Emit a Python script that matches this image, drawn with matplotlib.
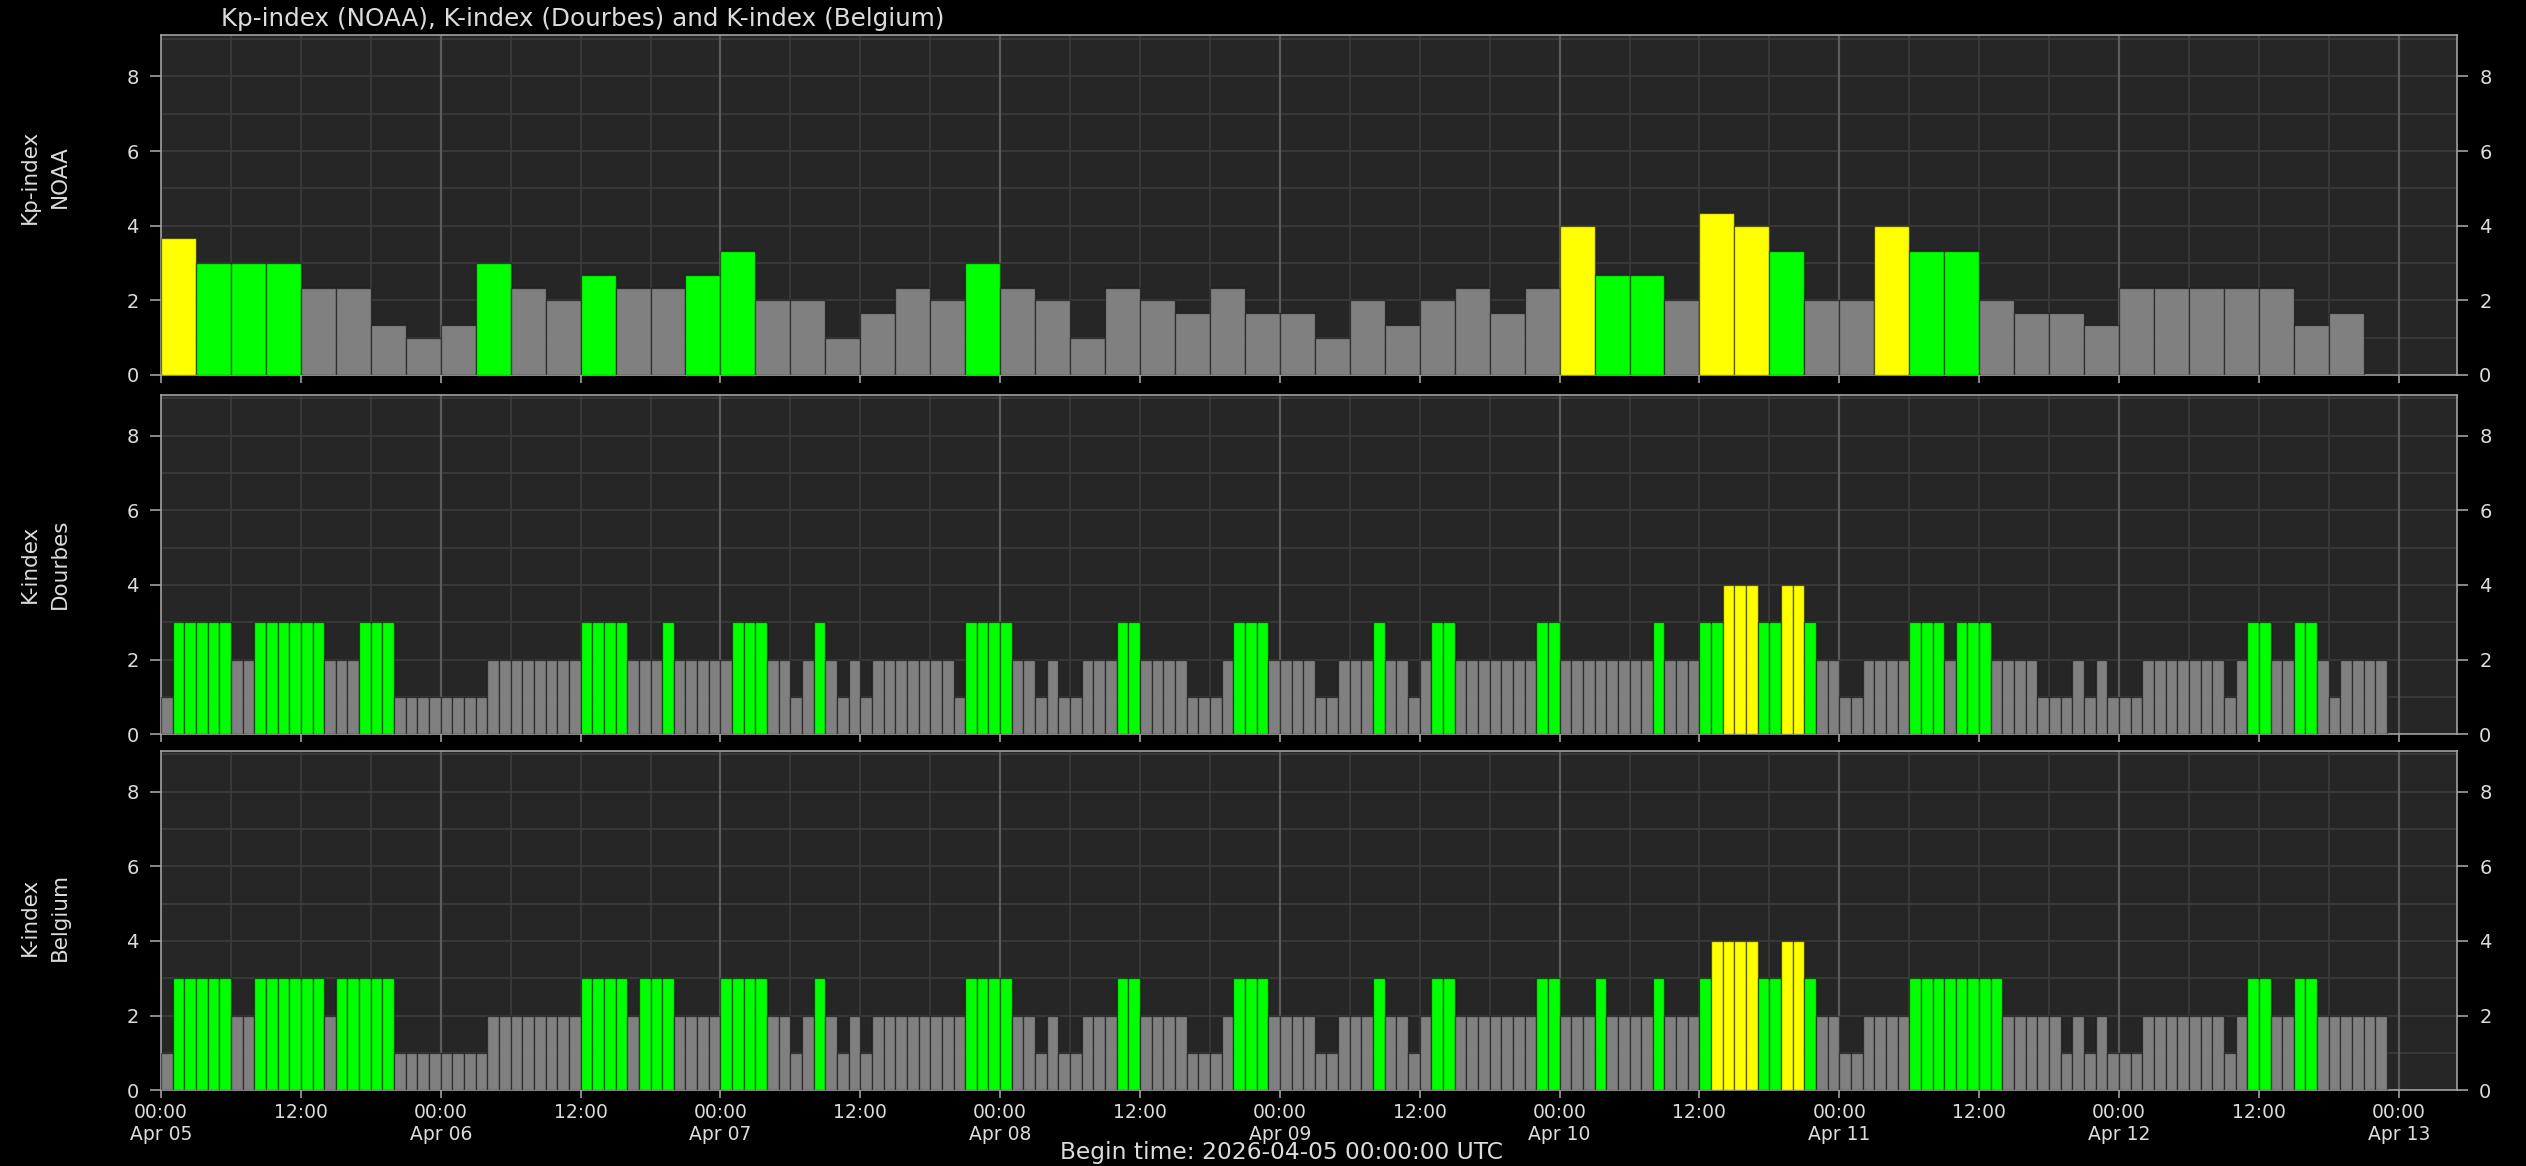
import numpy as np
import matplotlib
matplotlib.use("Agg")
import matplotlib.pyplot as plt
import matplotlib.dates as mdates
from matplotlib.ticker import MultipleLocator, FuncFormatter

# ---------------- data ----------------
start_time = "2026-04-05T00:00"
title_text = "Kp-index (NOAA), K-index (Dourbes) and K-index (Belgium)"
xlabel_text = "Begin time: 2026-04-05 00:00:00 UTC"
panel_labels = ["Kp-index\nNOAA", "K-index\nDourbes", "K-index\nBelgium"]

# Kp-index (NOAA), 3-hourly, from Apr 05 00:00
kp_noaa = [
    3.67, 3, 3, 3, 2.33, 2.33, 1.33, 1,          # Apr 05
    1.33, 3, 2.33, 2, 2.67, 2.33, 2.33, 2.67,    # Apr 06
    3.33, 2, 2, 1, 1.67, 2.33, 2, 3,             # Apr 07
    2.33, 2, 1, 2.33, 2, 1.67, 2.33, 1.67,       # Apr 08
    1.67, 1, 2, 1.33, 2, 2.33, 1.67, 2.33,       # Apr 09
    4, 2.67, 2.67, 2, 4.33, 4, 3.33, 2,          # Apr 10
    2, 4, 3.33, 3.33, 2, 1.67, 1.67, 1.33,       # Apr 11
    2.33, 2.33, 2.33, 2.33, 2.33, 1.33, 1.67, 0, # Apr 12
]

# K-index Dourbes, hourly, from Apr 05 00:00
k_dourbes = [
    1, 3, 3, 3, 3, 3, 2, 2, 3, 3, 3, 3, 3, 3, 2, 2, 2, 3, 3, 3, 1, 1, 1, 1,   # Apr 05
    1, 1, 1, 1, 2, 2, 2, 2, 2, 2, 2, 2, 3, 3, 3, 3, 2, 2, 2, 3, 2, 2, 2, 2,   # Apr 06
    2, 3, 3, 3, 2, 2, 1, 2, 3, 2, 1, 2, 1, 2, 2, 2, 2, 2, 2, 2, 1, 3, 3, 3,   # Apr 07
    3, 2, 2, 1, 2, 1, 1, 2, 2, 2, 3, 3, 2, 2, 2, 2, 1, 1, 1, 2, 3, 3, 3, 2,   # Apr 08
    2, 2, 2, 1, 1, 2, 2, 2, 3, 2, 2, 1, 2, 3, 3, 2, 2, 2, 2, 2, 2, 2, 3, 3,   # Apr 09
    2, 2, 2, 2, 2, 2, 2, 2, 3, 2, 2, 2, 3, 3, 4, 4, 4, 3, 3, 4, 4, 3, 2, 2,   # Apr 10
    1, 1, 2, 2, 2, 2, 3, 3, 3, 2, 3, 3, 3, 2, 2, 2, 2, 1, 1, 1, 2, 1, 2, 1,   # Apr 11
    1, 1, 2, 2, 2, 2, 2, 2, 2, 1, 2, 3, 3, 2, 2, 3, 3, 2, 1, 2, 2, 2, 2,      # Apr 12
]

# K-index Belgium, hourly, from Apr 05 00:00
k_belgium = [
    1, 3, 3, 3, 3, 3, 2, 2, 3, 3, 3, 3, 3, 3, 2, 3, 3, 3, 3, 3, 1, 1, 1, 1,   # Apr 05
    1, 1, 1, 1, 2, 2, 2, 2, 2, 2, 2, 2, 3, 3, 3, 3, 2, 3, 3, 3, 2, 2, 2, 2,   # Apr 06
    3, 3, 3, 3, 2, 2, 1, 2, 3, 2, 1, 2, 1, 2, 2, 2, 2, 2, 2, 2, 2, 3, 3, 3,   # Apr 07
    3, 2, 2, 1, 2, 1, 1, 2, 2, 2, 3, 3, 2, 2, 2, 2, 1, 1, 1, 2, 3, 3, 3, 2,   # Apr 08
    2, 2, 2, 1, 1, 2, 2, 2, 3, 2, 2, 1, 2, 3, 3, 2, 2, 2, 2, 2, 2, 2, 3, 3,   # Apr 09
    2, 2, 2, 3, 2, 2, 2, 2, 3, 2, 2, 2, 3, 4, 4, 4, 4, 3, 3, 4, 4, 3, 2, 2,   # Apr 10
    1, 1, 2, 2, 2, 2, 3, 3, 3, 3, 3, 3, 3, 3, 2, 2, 2, 2, 2, 1, 2, 1, 2, 1,   # Apr 11
    1, 1, 2, 2, 2, 2, 2, 2, 2, 1, 2, 3, 3, 2, 2, 3, 3, 2, 2, 2, 2, 2, 2,      # Apr 12
]

# ---------------- style ----------------
FIG_BG = "#000000"
AX_BG = "#262626"
C_QUIET = "#808080"
C_ACTIVE = "#00ff00"
C_STORM = "#ffff00"
TXT = "#dcdcdc"
SPINE = "#a0a0a0"


def bar_color(v):
    r = round(v)
    if r >= 4:
        return C_STORM
    if r >= 3:
        return C_ACTIVE
    return C_QUIET


def tick_fmt(v, pos):
    d = mdates.num2date(v)
    if d.hour == 0:
        return d.strftime("%H:%M\n%b %d")
    return d.strftime("%H:%M")


W, H = 2526, 1166
fig = plt.figure(figsize=(W / 100, H / 100), dpi=100, facecolor=FIG_BG)

left_px, right_px = 161, 2457
panel_tops = [35.4, 394.7, 750.7]
panel_h = 339.5
label_centers = [177, 564, 917]

t0 = mdates.date2num(np.datetime64(start_time))
t1 = t0 + 8 + 5 / 24.0
series = [(kp_noaa, 3), (k_dourbes, 1), (k_belgium, 1)]

for i, (vals, hours) in enumerate(series):
    top = panel_tops[i]
    ax = fig.add_axes([left_px / W, 1 - (top + panel_h) / H,
                       (right_px - left_px) / W, panel_h / H])
    ax.set_facecolor(AX_BG)
    vals = np.asarray(vals, dtype=float)
    x = t0 + np.arange(len(vals)) * hours / 24.0
    cols = [bar_color(v) for v in vals]
    ax.bar(x, vals, width=hours / 24.0, align="edge", color=cols,
           edgecolor=(0, 0, 0, 0.45), linewidth=1.0, zorder=3)

    ax.set_xlim(t0, t1)
    ax.set_ylim(0, 9.1)

    ax.yaxis.set_major_locator(MultipleLocator(2))
    ax.yaxis.set_minor_locator(MultipleLocator(1))
    ax.xaxis.set_major_locator(mdates.HourLocator(byhour=[0, 12]))
    ax.xaxis.set_minor_locator(mdates.HourLocator(byhour=[0, 6, 12, 18]))
    ax.xaxis.remove_overlapping_locs = False

    ax.grid(which="major", axis="x", visible=False)
    ax.grid(which="minor", axis="x", color="#3c3c3c", linewidth=1.2, zorder=0)
    ax.grid(which="both", axis="y", color="#3c3c3c", linewidth=1.2, zorder=0)
    for d in mdates.DayLocator().tick_values(mdates.num2date(t0), mdates.num2date(t1)):
        if t0 < d < t1:
            ax.axvline(d, color="#5c5c5c", linewidth=1.6, zorder=1)
    ax.set_axisbelow(True)

    ax.tick_params(axis="y", which="major", left=True, right=True,
                   labelleft=True, labelright=True, colors=SPINE,
                   labelcolor=TXT, labelsize=14, length=8, width=1.2, pad=8)
    ax.tick_params(axis="y", which="minor", left=False, right=False)
    ax.tick_params(axis="x", which="major", colors=SPINE, labelcolor=TXT,
                   labelsize=13.5, length=6, width=1.2)
    ax.tick_params(axis="x", which="minor", bottom=False)

    for s in ax.spines.values():
        s.set_color(SPINE)
        s.set_linewidth(1.2)

    fig.text(45 / W, 1 - label_centers[i] / H, panel_labels[i],
             rotation=90, ha="center", va="center", color=TXT, fontsize=15.5,
             multialignment="center", linespacing=1.6)

    if i < 2:
        ax.tick_params(axis="x", which="both", labelbottom=False)
    else:
        ax.xaxis.set_major_formatter(FuncFormatter(tick_fmt))

fig.text(221 / W, 1 - 19 / H, title_text, ha="left", va="center",
         color=TXT, fontsize=17.7)
fig.text(1281 / W, 1 - 1153 / H, xlabel_text, ha="center", va="center",
         color=TXT, fontsize=16.8)

fig.savefig("out.png", dpi=100, facecolor=FIG_BG)
